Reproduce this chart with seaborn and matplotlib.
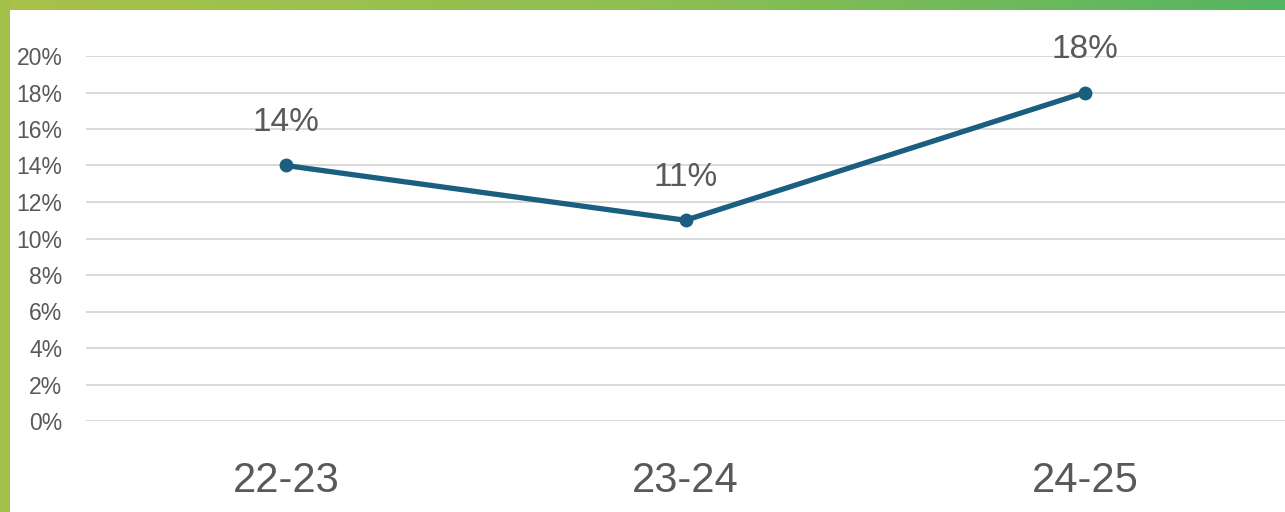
import numpy as np
import pandas as pd
import matplotlib
matplotlib.use("Agg")
import matplotlib.pyplot as plt
import seaborn as sns
from matplotlib.colors import LinearSegmentedColormap
from matplotlib.patches import Rectangle

# Data
periods = ["22-23", "23-24", "24-25"]
values = [0.14, 0.11, 0.18]
value_labels = ["14%", "11%", "18%"]
ytick_vals = [0, 0.02, 0.04, 0.06, 0.08, 0.10, 0.12, 0.14, 0.16, 0.18, 0.20]
ytick_labels = ["0%", "2%", "4%", "6%", "8%", "10%", "12%", "14%", "16%", "18%", "20%"]

sns.set_theme(style="white")
plt.rcParams["font.family"] = ["Liberation Sans", "DejaVu Sans"]

W, H = 1285, 512
fig = plt.figure(figsize=(W / 100, H / 100), dpi=100)
fig.patch.set_facecolor("white")

# decorative frame: left bar and top gradient bar
fig.patches.append(Rectangle((0, 0), 10 / W, 1, transform=fig.transFigure,
                             facecolor="#a3c14a", edgecolor="none", zorder=0))
gax = fig.add_axes([0, 1 - 10 / H, 1, 10 / H])
cmap = LinearSegmentedColormap.from_list("g", ["#a9c24b", "#8fbf52", "#55b562"])
gax.imshow(np.linspace(0, 1, 256)[None, :], aspect="auto", cmap=cmap)
gax.set_axis_off()

ax = fig.add_axes([86 / W, 91 / H, 1 - 86 / W, 365 / H])
df = pd.DataFrame({"period": periods, "value": values})
sns.lineplot(data=df, x="period", y="value", ax=ax, color="#1a5f80",
             linewidth=3.8, marker="o", markersize=10, markeredgewidth=0,
             sort=False, zorder=3)

for i, (v, lab) in enumerate(zip(values, value_labels)):
    ax.annotate(lab, (i, v), xytext=(0, 31), textcoords="offset points",
                ha="center", va="center", fontsize=24, color="#595959")

ax.set_xlim(-0.5, 2.5)
ax.set_ylim(0, 0.20)
ax.set_yticks(ytick_vals)
ax.set_yticklabels(ytick_labels)
ax.grid(axis="y", color="#d9d9d9", linewidth=1.4)
ax.grid(axis="x", visible=False)
ax.set_axisbelow(True)
for s in ax.spines.values():
    s.set_visible(False)
ax.tick_params(axis="y", length=0, pad=17, labelsize=16.5, labelcolor="#595959")
ax.tick_params(axis="x", length=0, pad=29, labelsize=30, labelcolor="#595959")
ax.set_xlabel("")
ax.set_ylabel("")
ax.patch.set_alpha(0)

fig.savefig("out.png", dpi=100)
